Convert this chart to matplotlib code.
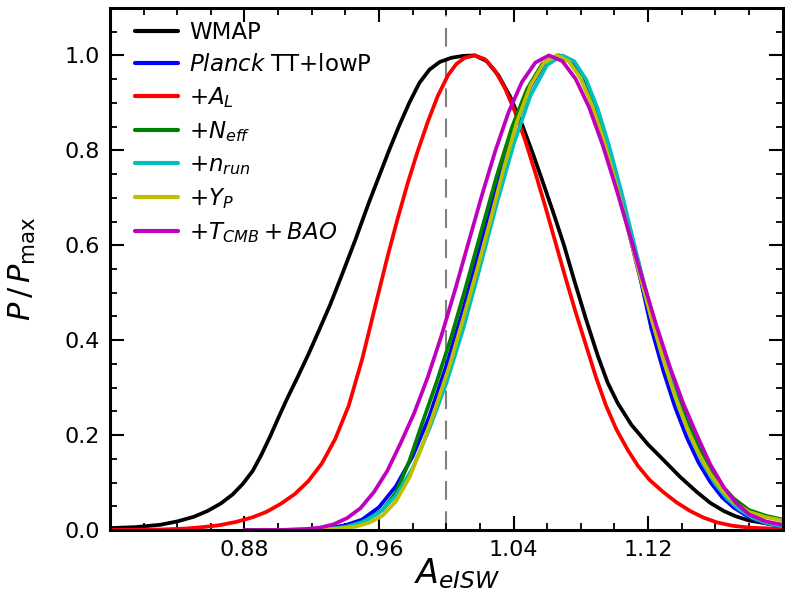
import matplotlib
matplotlib.use("Agg")
import matplotlib.pyplot as plt
from matplotlib.ticker import MultipleLocator, FixedLocator

# ---------------- data ----------------
wmap_x = [0.800,0.815,0.830,0.840,0.850,0.858,0.866,0.873,0.879,0.885,0.890,0.895,0.900,0.905,0.912,0.918,0.924,0.931,0.938,0.946,0.954,0.960,0.966,0.972,0.978,0.984,0.990,0.996,1.003,1.010,1.017,1.024,1.031,1.038,1.045,1.052,1.058,1.064,1.070,1.076,1.083,1.090,1.096,1.102,1.110,1.120,1.129,1.139,1.149,1.157,1.165,1.172,1.180,1.190,1.200]
wmap_y = [0.004,0.006,0.011,0.018,0.028,0.040,0.056,0.075,0.097,0.125,0.158,0.195,0.235,0.274,0.325,0.370,0.418,0.475,0.538,0.612,0.690,0.745,0.800,0.852,0.900,0.942,0.970,0.986,0.995,0.999,1.000,0.988,0.958,0.913,0.855,0.788,0.727,0.665,0.600,0.527,0.445,0.368,0.310,0.267,0.222,0.180,0.148,0.112,0.080,0.057,0.040,0.029,0.020,0.014,0.010]

planck_x = [0.900,0.910,0.920,0.930,0.940,0.950,0.960,0.970,0.980,0.990,1.000,1.010,1.020,1.030,1.040,1.050,1.058,1.067,1.074,1.081,1.088,1.095,1.102,1.109,1.116,1.122,1.129,1.136,1.143,1.150,1.157,1.164,1.171,1.180,1.190,1.200]
planck_y = [0.000,0.0005,0.0015,0.004,0.010,0.022,0.048,0.092,0.155,0.240,0.346,0.464,0.593,0.724,0.842,0.934,0.981,1.000,0.990,0.953,0.893,0.813,0.721,0.621,0.520,0.424,0.336,0.259,0.195,0.142,0.101,0.069,0.047,0.027,0.014,0.007]

al_x = [0.800,0.830,0.845,0.855,0.865,0.875,0.885,0.893,0.902,0.910,0.918,0.926,0.934,0.942,0.950,0.958,0.965,0.971,0.977,0.983,0.989,0.995,1.001,1.006,1.011,1.017,1.023,1.029,1.035,1.041,1.047,1.053,1.059,1.065,1.071,1.077,1.083,1.089,1.095,1.101,1.108,1.114,1.121,1.129,1.137,1.145,1.153,1.161,1.170,1.180,1.200]
al_y = [0.000,0.001,0.003,0.006,0.010,0.017,0.027,0.038,0.056,0.076,0.103,0.140,0.192,0.262,0.360,0.475,0.575,0.655,0.730,0.798,0.860,0.915,0.958,0.982,0.995,1.000,0.992,0.968,0.930,0.880,0.820,0.752,0.680,0.605,0.530,0.458,0.390,0.322,0.262,0.213,0.168,0.135,0.105,0.080,0.058,0.040,0.026,0.016,0.009,0.005,0.002]

neff_x = [0.880,0.900,0.920,0.932,0.942,0.952,0.962,0.970,0.978,0.985,0.994,1.003,1.012,1.021,1.030,1.039,1.048,1.057,1.066,1.073,1.080,1.087,1.094,1.101,1.108,1.115,1.122,1.129,1.136,1.143,1.150,1.157,1.164,1.171,1.180,1.190,1.200]
neff_y = [0.000,0.000,0.001,0.003,0.008,0.020,0.042,0.078,0.145,0.218,0.309,0.407,0.517,0.632,0.746,0.848,0.929,0.982,1.000,0.988,0.953,0.897,0.824,0.739,0.647,0.553,0.461,0.375,0.298,0.231,0.175,0.129,0.093,0.066,0.042,0.030,0.022]

nrun_x = [0.910,0.920,0.930,0.940,0.950,0.960,0.970,0.980,0.990,1.000,1.010,1.020,1.030,1.040,1.050,1.060,1.069,1.076,1.083,1.090,1.097,1.104,1.111,1.118,1.125,1.132,1.139,1.146,1.153,1.160,1.167,1.174,1.182,1.190,1.200]
nrun_y = [0.000,0.0005,0.002,0.006,0.016,0.036,0.072,0.130,0.214,0.309,0.423,0.553,0.687,0.812,0.915,0.980,1.000,0.988,0.950,0.888,0.807,0.714,0.613,0.512,0.416,0.330,0.254,0.190,0.138,0.097,0.066,0.044,0.026,0.015,0.008]

yp_x = [0.900,0.910,0.925,0.936,0.946,0.954,0.962,0.970,0.978,0.986,0.994,1.002,1.010,1.018,1.026,1.034,1.042,1.050,1.058,1.066,1.073,1.080,1.087,1.094,1.101,1.108,1.115,1.122,1.129,1.136,1.143,1.150,1.157,1.164,1.171,1.180,1.190,1.200]
yp_y = [0.000,0.000,0.001,0.003,0.007,0.015,0.030,0.060,0.110,0.180,0.262,0.347,0.445,0.545,0.650,0.760,0.860,0.936,0.984,1.000,0.987,0.951,0.892,0.817,0.729,0.634,0.538,0.445,0.359,0.282,0.216,0.162,0.118,0.084,0.058,0.038,0.027,0.020]

bao_x = [0.880,0.900,0.915,0.925,0.933,0.941,0.949,0.957,0.965,0.973,0.981,0.989,0.997,1.005,1.013,1.021,1.029,1.037,1.045,1.053,1.061,1.069,1.077,1.085,1.093,1.101,1.109,1.117,1.125,1.133,1.141,1.149,1.157,1.165,1.172,1.180,1.190,1.200]
bao_y = [0.000,0.000,0.0015,0.005,0.012,0.025,0.046,0.080,0.125,0.184,0.247,0.322,0.408,0.503,0.603,0.703,0.797,0.880,0.944,0.985,1.000,0.988,0.950,0.890,0.811,0.720,0.623,0.524,0.430,0.343,0.266,0.200,0.138,0.090,0.058,0.033,0.018,0.011]

labels = ["WMAP", r"$\mathit{Planck}$ TT$+$lowP", r"$+A_L$", r"$+N_{eff}$",
          r"$+n_{run}$", r"$+Y_P$", r"$+T_{CMB}+BAO$"]
colors = ["k", "b", "r", "g", "c", "y", "m"]
series = [(wmap_x, wmap_y), (planck_x, planck_y), (al_x, al_y), (neff_x, neff_y),
          (nrun_x, nrun_y), (yp_x, yp_y), (bao_x, bao_y)]

x_ticks = [0.88, 0.96, 1.04, 1.12]
y_ticks = [0.0, 0.2, 0.4, 0.6, 0.8, 1.0]
ref_value = 1.0

# ---------------- figure ----------------
plt.rcParams['font.family'] = ['DejaVu Sans']
plt.rcParams['mathtext.fontset'] = 'dejavusans'

fig = plt.figure(figsize=(7.85, 6.12), dpi=100)
ax = fig.add_axes([0.140, 0.134, 0.857, 0.853])

ax.axvline(ref_value, color='gray', ls=(0, (9, 5.5)), lw=1.5, zorder=1)

for (xs, ys), c, lab in zip(series, colors, labels):
    ax.plot(xs, ys, color=c, lw=2.7, label=lab, zorder=2,
            solid_joinstyle='round', solid_capstyle='round')

ax.set_xlim(0.80, 1.20)
ax.set_ylim(0.0, 1.1)
ax.xaxis.set_major_locator(FixedLocator(x_ticks))
ax.xaxis.set_minor_locator(MultipleLocator(0.02))
ax.yaxis.set_major_locator(FixedLocator(y_ticks))
ax.yaxis.set_minor_locator(MultipleLocator(0.05))
ax.set_xticklabels([f"{v:.2f}" for v in x_ticks])
ax.set_yticklabels([f"{v:.1f}" for v in y_ticks])

ax.tick_params(which='both', direction='in', top=True, right=True, labelsize=16)
ax.tick_params(which='major', length=10, width=1.5, pad=7)
ax.tick_params(which='minor', length=5, width=1.3)
for s in ax.spines.values():
    s.set_linewidth(2.2)

ax.set_xlabel(r"$A_{eISW}$", fontsize=24)
ax.xaxis.set_label_coords(0.516, -0.050)
ax.set_ylabel(r"$P\,/\,P_{\rm max}$", fontsize=22)
ax.yaxis.set_label_coords(-0.107, 0.5)

leg = ax.legend(loc='upper left', bbox_to_anchor=(0.024, 0.993), frameon=False,
                fontsize=16.5, handlelength=1.85, handletextpad=0.5,
                labelspacing=0.4, borderaxespad=0.0)
for h in leg.get_lines():
    h.set_linewidth(3)

fig.savefig("out.png", dpi=100)
